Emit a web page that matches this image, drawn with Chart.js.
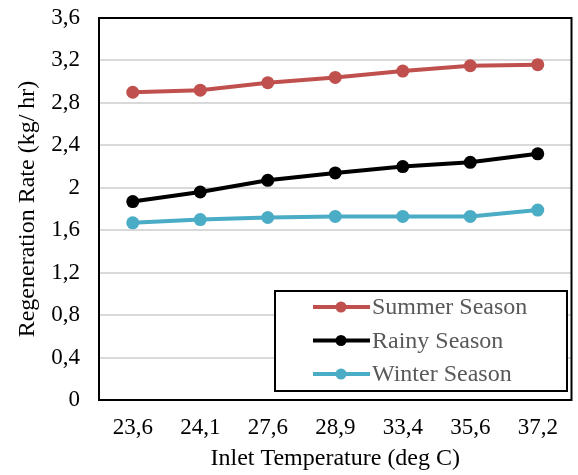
<!DOCTYPE html>
<html>
<head>
<meta charset="utf-8">
<script src="https://cdn.jsdelivr.net/npm/chart.js@4/dist/chart.umd.min.js"></script>
<style>
  html, body { margin: 0; padding: 0; background: #fff; }
  #wrap { width: 578px; height: 475px; }
</style>
</head>
<body>
<div id="wrap"><canvas id="regen-chart"></canvas></div>
<script>
const temperatures = ['23,6', '24,1', '27,6', '28,9', '33,4', '35,6', '37,2'];
const summer = [2.90, 2.92, 2.99, 3.04, 3.10, 3.15, 3.16];
const rainy = [1.87, 1.96, 2.07, 2.14, 2.20, 2.24, 2.32];
const winter = [1.67, 1.70, 1.72, 1.73, 1.73, 1.73, 1.79];

const serif = 'Liberation Serif';
const tickSize = 23;
const titleSize = 24;

// frame round the plot area plus the boxed legend in the lower right
const framePlugin = {
  id: 'frame',
  afterDraw(chart) {
    const {ctx, chartArea: a} = chart;
    ctx.save();
    ctx.strokeStyle = '#000';
    ctx.lineWidth = 2;
    ctx.strokeRect(a.left, a.top, a.right - a.left, a.bottom - a.top);

    const box = {x: 275, y: 291, w: 292, h: 100};
    ctx.fillStyle = '#fff';
    ctx.fillRect(box.x, box.y, box.w, box.h);
    ctx.strokeRect(box.x, box.y, box.w, box.h);

    ctx.font = titleSize + 'px "' + serif + '"';
    ctx.textBaseline = 'middle';
    chart.data.datasets.forEach((ds, i) => {
      const y = 307 + i * 33.5;
      ctx.strokeStyle = ds.borderColor;
      ctx.lineWidth = 4;
      ctx.beginPath();
      ctx.moveTo(313, y);
      ctx.lineTo(370, y);
      ctx.stroke();
      ctx.fillStyle = ds.borderColor;
      ctx.beginPath();
      ctx.arc(341, y, 5.5, 0, Math.PI * 2);
      ctx.fill();
      ctx.fillStyle = '#595959';
      ctx.fillText(ds.label, 372, y + 1);
    });
    ctx.restore();
  }
};

const line = (label, data, color) => ({
  label,
  data,
  borderColor: color,
  backgroundColor: color,
  borderWidth: 4,
  pointRadius: 6.5,
  pointHoverRadius: 6.5,
  pointBorderWidth: 0,
  tension: 0,
});

new Chart(document.querySelector('#regen-chart').getContext('2d'), {
  type: 'line',
  data: {
    labels: temperatures,
    datasets: [
      line('Summer Season', summer, '#C0504D'),
      line('Rainy Season', rainy, '#000000'),
      line('Winter Season', winter, '#4BACC6'),
    ],
  },
  options: {
    responsive: true,
    maintainAspectRatio: false,
    animation: false,
    layout: {padding: {top: 18, right: 1, left: 0, bottom: 0}},
    scales: {
      x: {
        offset: true,
        grid: {display: false, drawTicks: false},
        border: {display: false},
        ticks: {
          color: '#000',
          padding: 14,
          maxRotation: 0,
          font: {family: serif, size: tickSize},
        },
        title: {
          display: true,
          text: 'Inlet Temperature (deg C)',
          color: '#000',
          padding: {top: 3, bottom: 2},
          font: {family: serif, size: titleSize},
        },
        afterFit: (s) => { s.height = 75; s.paddingLeft = 0; s.paddingRight = 0; },
      },
      y: {
        min: 0,
        max: 3.6,
        grid: {color: '#D9D9D9', lineWidth: 2, drawTicks: false},
        border: {display: false},
        ticks: {
          stepSize: 0.4,
          color: '#000',
          padding: 19,
          font: {family: serif, size: tickSize},
          callback: (v) => String(Math.round(v * 10) / 10).replace('.', ','),
        },
        title: {
          display: true,
          text: 'Regeneration Rate (kg/ hr)',
          color: '#000',
          padding: {top: 13, bottom: 13},
          font: {family: serif, size: titleSize},
        },
        afterFit: (s) => { s.width = 99; s.paddingTop = 0; s.paddingBottom = 0; },
      },
    },
    plugins: {
      legend: {display: false},
      tooltip: {enabled: false},
    },
  },
  plugins: [framePlugin],
});
</script>
</body>
</html>
